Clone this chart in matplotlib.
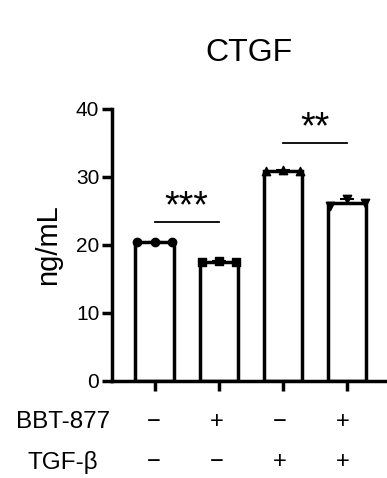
import matplotlib
matplotlib.use("Agg")
import matplotlib.pyplot as plt
import numpy as np

plt.rcParams['font.family'] = ['Liberation Sans', 'DejaVu Sans']

# CTGF concentration, three replicates per group
groups = ['ctrl', 'BBT', 'TGF', 'TGF+BBT']
replicates = [
    [20.4, 20.5, 20.4],
    [17.5, 17.7, 17.5],
    [30.9, 31.0, 30.9],
    [25.7, 26.8, 26.1],
]
markers = ['o', 's', '^', 'v']
bbt_signs = ['\u2212', '+', '\u2212', '+']
tgf_signs = ['\u2212', '\u2212', '+', '+']
# significance brackets: (left group, right group, height, label)
brackets = [(0, 1, 23.4, '***'), (2, 3, 35.0, '**')]

LW = 2.5

fig = plt.figure(figsize=(3.87, 4.78), dpi=100)
ax = fig.add_axes([0.289, 0.203, 0.711, 0.569])

x = np.arange(len(groups))
means = [np.mean(r) for r in replicates]
sds = [np.std(r, ddof=1) for r in replicates]

ax.bar(x, means, width=0.6, color='white', edgecolor='black', linewidth=LW, zorder=2)
for i, r in enumerate(replicates):
    ax.errorbar(x[i], means[i], yerr=[[0], [sds[i]]], color='black',
                capsize=5, elinewidth=1.5, capthick=1.5, zorder=3)
    ax.scatter(x[i] + np.array([-0.27, 0, 0.27]), r, marker=markers[i],
               s=36, color='black', zorder=4, clip_on=False)

for a, b, h, lab in brackets:
    ax.plot([a, b], [h, h], color='black', lw=1.3)
    ax.text((a + b) / 2, h + 0.7, lab, ha='center', va='baseline', fontsize=27)

ax.set_xlim(-0.667, 3.62)
ax.set_ylim(0, 40)
ax.set_yticks([0, 10, 20, 30, 40])
ax.set_xticks(x)
ax.set_xticklabels([])
ax.spines['top'].set_visible(False)
ax.spines['right'].set_visible(False)
for s in ['left', 'bottom']:
    ax.spines[s].set_linewidth(LW)
ax.tick_params(axis='both', width=LW, length=7, labelsize=15, pad=2)
ax.set_ylabel('ng/mL', fontsize=21, labelpad=10)

fig.text(0.643, 0.89, 'CTGF', ha='center', va='center', fontsize=23)

for i in range(len(groups)):
    xf = (112 + (x[i] + 0.667) * 63) / 387
    fig.text(xf, 1 - 422 / 478, bbt_signs[i], ha='center', va='center', fontsize=17)
    fig.text(xf, 1 - 462 / 478, tgf_signs[i], ha='center', va='center', fontsize=17)
fig.text(63 / 387, 1 - 422 / 478, 'BBT-877', ha='center', va='center', fontsize=17.5)
fig.text(63 / 387, 1 - 462 / 478, 'TGF-\u03b2', ha='center', va='center', fontsize=17.5)

fig.savefig('out.png', dpi=100)
